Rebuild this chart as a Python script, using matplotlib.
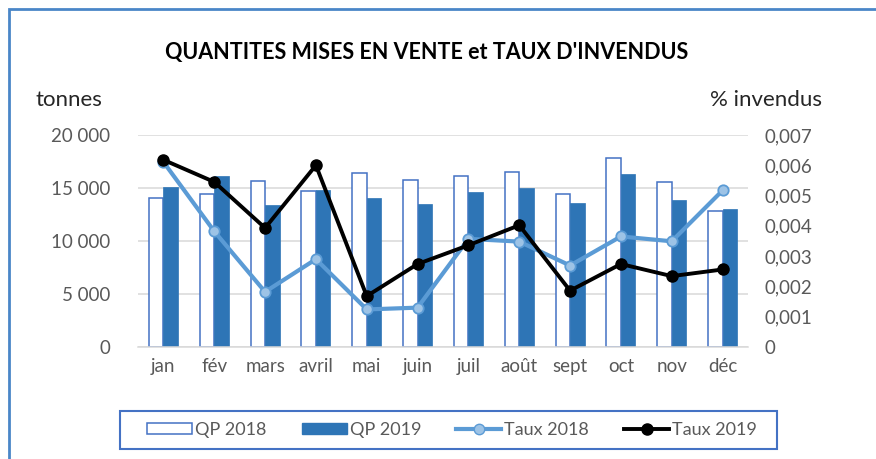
import matplotlib
matplotlib.use("Agg")
import matplotlib.pyplot as plt
from matplotlib.patches import Rectangle, Patch
from matplotlib.lines import Line2D
from matplotlib.ticker import FixedLocator, FuncFormatter
import numpy as np

months = ["jan", "fév", "mars", "avril", "mai", "juin", "juil", "août", "sept", "oct", "nov", "déc"]
qp_2018 = [14100, 14430, 15700, 14700, 16450, 15760, 16100, 16550, 14430, 17850, 15540, 12820]
qp_2019 = [15100, 16100, 13390, 14840, 14050, 13510, 14620, 14970, 13580, 16300, 13890, 12980]
taux_2018 = [0.00611, 0.00382, 0.00182, 0.00290, 0.00124, 0.00130, 0.00357, 0.00348, 0.00269, 0.00365, 0.00349, 0.00517]
taux_2019 = [0.00618, 0.00545, 0.00393, 0.00600, 0.00168, 0.00274, 0.00336, 0.00402, 0.00186, 0.00274, 0.00234, 0.00256]
left_ticks = [0, 5000, 10000, 15000, 20000]
right_ticks = [0, 0.001, 0.002, 0.003, 0.004, 0.005, 0.006, 0.007]

FONT = "Lato"
GRAY = "#595959"
plt.rcParams["font.family"] = [FONT, "DejaVu Sans"]

fig = plt.figure(figsize=(8.76, 4.59), dpi=100)
ax = fig.add_axes([138/876, 1-347/459, 610/876, 212/459])
x = np.arange(len(months))
w = 0.285
ax.bar(x - w/2, qp_2018, width=w, facecolor="white", edgecolor="#4472C4", linewidth=1.1, zorder=2)
ax.bar(x + w/2, qp_2019, width=w, facecolor="#2E75B6", edgecolor="#2E75B6", linewidth=0.5, zorder=2)
ax.set_xlim(-0.5, 11.5)
ax.set_ylim(0, 20000)
ax.yaxis.set_major_locator(FixedLocator(left_ticks))
ax.yaxis.set_major_formatter(FuncFormatter(lambda v, p: f"{int(v):,}".replace(",", " ")))
ax.grid(axis="y", color="#D9D9D9", linewidth=1.1, zorder=0)
ax.set_axisbelow(True)
ax.set_xticks(x)
ax.set_xticklabels(months)
for s in ["top", "right", "left"]:
    ax.spines[s].set_visible(False)
ax.spines["bottom"].set_color("#D9D9D9")
ax.spines["bottom"].set_linewidth(1.1)
ax.tick_params(axis="both", length=0, labelsize=13.5, labelcolor=GRAY)
ax.tick_params(axis="y", pad=20)
ax.tick_params(axis="x", pad=8)

ax2 = ax.twinx()
ax2.set_ylim(0, 0.007)
ax2.yaxis.set_major_locator(FixedLocator(right_ticks))
ax2.yaxis.set_major_formatter(FuncFormatter(lambda v, p: "0" if v == 0 else f"{v:.3f}".replace(".", ",")))
for s in ax2.spines.values():
    s.set_visible(False)
ax2.tick_params(axis="y", length=0, labelsize=13.5, labelcolor=GRAY, pad=12)
ax2.plot(x, taux_2018, color="#5B9BD5", linewidth=3, marker="o", markersize=7.5,
         markerfacecolor="#9DC3E6", markeredgecolor="#5B9BD5", markeredgewidth=1.3, zorder=3)
ax2.plot(x, taux_2019, color="black", linewidth=2.8, marker="o", markersize=8, zorder=4)

fig.text(427/876, 1-53/459, "QUANTITES MISES EN VENTE et TAUX D'INVENDUS", ha="center", va="center",
         fontsize=15.5, fontweight="bold", color="black")
fig.text(35/876, 1-100/459, "tonnes", ha="left", va="center", fontsize=16, color="#262626")
fig.text(822/876, 1-100/459, "% invendus", ha="right", va="center", fontsize=16, color="#262626")

handles = [
    Patch(facecolor="white", edgecolor="#4472C4", linewidth=1.1),
    Patch(facecolor="#2E75B6", edgecolor="#2E75B6"),
    Line2D([], [], color="#5B9BD5", linewidth=3, marker="o", markersize=7.5,
           markerfacecolor="#9DC3E6", markeredgecolor="#5B9BD5"),
    Line2D([], [], color="black", linewidth=2.8, marker="o", markersize=8),
]
labels = ["QP 2018", "QP 2019", "Taux 2018", "Taux 2019"]
leg = fig.legend(handles, labels, ncol=4, loc="center", bbox_to_anchor=(452/876, 1-430/459),
                 frameon=False, fontsize=13, handlelength=2.5, handletextpad=0.15,
                 columnspacing=1.95, borderpad=0.3, borderaxespad=0, handleheight=0.6)
for t in leg.get_texts():
    t.set_color(GRAY)

fig.add_artist(Rectangle((120/876, 1-449/459), 657/876, 38/459, transform=fig.transFigure,
                         fill=False, edgecolor="#4472C4", linewidth=1.5, clip_on=False))
fig.add_artist(Rectangle((9/876, -0.1), 1.2, 1.1 - 9/459, transform=fig.transFigure,
                         fill=False, edgecolor="#4A86C8", linewidth=2, clip_on=False))

fig.savefig("out.png", dpi=100)
